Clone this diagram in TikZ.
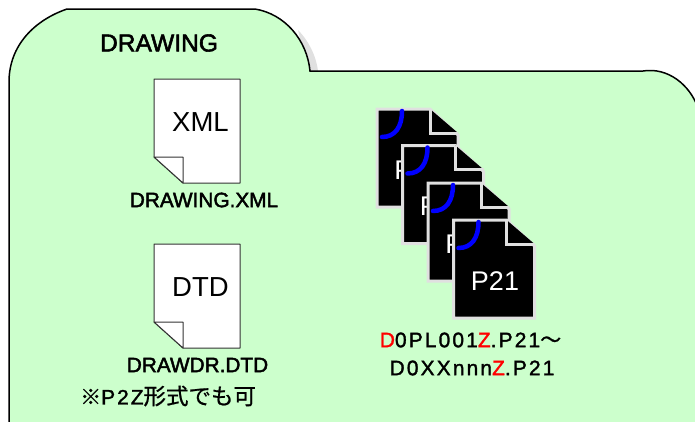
\documentclass[tikz,border=0pt]{standalone}
\usepackage{xcolor}
\usepackage{fontspec}
\setmainfont{Liberation Sans}
\newfontfamily\boldfont[FakeBold=2.2]{Liberation Sans}
\newfontfamily\namefont[LetterSpace=10,FakeBold=1.6]{Liberation Sans}
\newfontfamily\cjkfont[FakeBold=0.8]{Noto Sans CJK JP}
\definecolor{folder}{RGB}{204, 255, 204}
\definecolor{edge}{RGB}{224, 224, 224}
\definecolor{curve}{RGB}{0, 0, 255}
\tikzstyle{title} = [font=\boldfont\fontsize{24.6}{24.6}\selectfont, text=black, inner sep=0pt]
\tikzstyle{filename} = [font=\boldfont\fontsize{20.8}{20.8}\selectfont, text=black, inner sep=0pt]
\tikzstyle{seqname} = [font=\namefont\fontsize{21}{21}\selectfont, text=black, inner sep=0pt]
\tikzstyle{doctype} = [font=\fontsize{27.5}{27.5}\selectfont, text=black, inner sep=0pt]
\tikzstyle{seqtype} = [font=\fontsize{27}{27}\selectfont, text=white, inner sep=0pt]
\tikzstyle{whitepage} = [draw=black!80, line width=1pt, fill=white, line join=round]
\tikzstyle{blackpage} = [draw=edge, line width=3pt, fill=black, line join=miter]
\begin{document}
\begin{tikzpicture}[x=1pt, y=-1pt]
    \useasboundingbox (0, 0) rectangle (695, 421);
    \clip (0, 0) rectangle (695, 421);

    % Folder
    \fill[edge] (298, 30) .. controls (308, 40) and (316, 55) .. (318, 71) -- (308, 71) -- cycle;
    \draw[fill=folder, line width=1.5pt] (9, 430) -- (9, 82)
        .. controls (9, 45) and (35, 20) .. (67, 9) -- (255, 9)
        .. controls (285, 14) and (307, 40) .. (310, 71) -- (643, 71)
        .. controls (668, 67) and (690, 85) .. (698, 108) -- (698, 430);
    \node[title] (drawing) at (159, 43) {DRAWING};

    % XML and DTD files
    \foreach \dy/\name/\ext in {0/xml/XML, 165/dtd/DTD} {
        \begin{scope}[yshift=-\dy pt]
            \draw[whitepage] (154, 79) -- (240, 79) -- (240, 183) -- (183, 183) -- (154, 157) -- cycle;
            \draw[whitepage] (154, 157) -- (183, 157) -- (183, 183) -- cycle;
            \node[doctype] (\name) at (200.5, 122) {\ext};
        \end{scope}
    }
    \node[filename] (xmlname) at (204, 200) {DRAWING.XML};
    \node[filename] (dtdname) at (197.5, 365) {DRAWDR.DTD};
    \node[filename, anchor=west] (note) at (80, 396) {{\cjkfont\fontsize{21}{21}\selectfont ※}{\namefont P2Z}{\cjkfont\fontsize{22.5}{22.5}\selectfont 形式でも可}};

    % P21 files
    \foreach \i/\px/\py in {1/377/109, 2/402.5/145.5, 3/428/183, 4/453.5/220} {
        \begin{scope}[shift={(\px, \py)}]
            \draw[blackpage] (0, 0) -- (53, 0) -- (81, 26) -- (81, 98) -- (0, 98) -- cycle;
            \draw[blackpage] (53, 0) -- (53, 24) -- (81, 24);
            \draw[curve, line width=4.5pt, line cap=round] (25, 2) .. controls (25, 18) and (18, 28) .. (5, 28);
            \node[seqtype] (p\i) at (41.5, 61) {P21};
        \end{scope}
    }
    \node[seqname] (first) at (470.5, 340) {\textcolor{red}{D}0PL001\textcolor{red}{Z}.P21{\cjkfont ～}};
    \node[seqname] (last) at (472, 368) {D0XXnnn\textcolor{red}{Z}.P21};
\end{tikzpicture}
\end{document}
